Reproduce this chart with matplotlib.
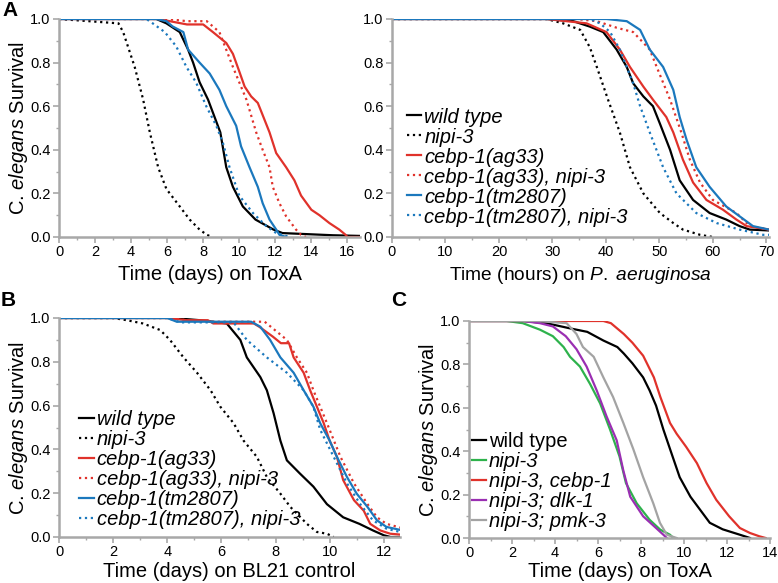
import numpy as np
import matplotlib
matplotlib.use('Agg')
import matplotlib.pyplot as plt
from matplotlib.ticker import MultipleLocator

plt.rcParams['font.family'] = ['Liberation Sans', 'DejaVu Sans']
plt.rcParams['mathtext.fontset'] = 'custom'
plt.rcParams['mathtext.rm'] = 'Liberation Sans'
plt.rcParams['mathtext.it'] = 'Liberation Sans:italic'

RED = '#e0322b'
BLUE = '#1b78bd'
GREEN = '#2eb24c'
PURPLE = '#9a2fb2'
GRAY = '#a3a3a3'
SPINE = '#a8a8a8'

# ---- Panel A left: ToxA (days) ----
a_wt_t = [0, 5.4, 5.96, 6.7, 7.16, 7.44, 7.8, 8.27, 8.95, 9.28, 9.65, 10.2, 10.9, 11.9, 12.4, 15.2, 16.7]
a_wt_s = [1.0, 1.0, 0.98, 0.94, 0.86, 0.80, 0.71, 0.63, 0.48, 0.32, 0.23, 0.14, 0.08, 0.034, 0.018, 0.008, 0.005]
a_nipi_t = [0, 3.3, 3.56, 4.2, 4.67, 5.04, 5.5, 5.96, 6.7, 7.25, 7.8, 8.2, 8.5]
a_nipi_s = [1.0, 0.98, 0.94, 0.78, 0.63, 0.48, 0.32, 0.22, 0.14, 0.08, 0.034, 0.01, 0.0]
a_ag_t = [0, 5.5, 7.1, 8.0, 8.54, 9.28, 9.65, 10.0, 10.3, 10.66, 11.03, 11.2, 11.68, 12.05, 12.6,
          13.06, 13.43, 14.0, 14.45, 15.0, 15.55, 15.9, 16.0, 16.7]
a_ag_s = [1.0, 1.0, 0.975, 0.975, 0.94, 0.89, 0.84, 0.76, 0.69, 0.645, 0.615, 0.58, 0.48, 0.385, 0.32,
          0.26, 0.19, 0.125, 0.10, 0.064, 0.034, 0.01, 0.0, 0.0]
a_agn_t = [0, 6.0, 7.1, 8.2, 8.9, 9.65, 10.0, 10.4, 10.94, 11.3, 11.68, 11.86, 12.23, 12.6, 13.15, 13.43, 13.7]
a_agn_s = [1.0, 1.0, 0.99, 0.99, 0.94, 0.78, 0.71, 0.63, 0.48, 0.40, 0.32, 0.23, 0.155, 0.095, 0.034, 0.01, 0.0]
a_tm_t = [0, 5.4, 5.96, 6.3, 6.9, 7.16, 7.8, 8.36, 8.9, 9.28, 9.83, 10.1, 10.57, 11.03, 11.3, 11.68, 12.05, 12.23, 12.6]
a_tm_s = [1.0, 1.0, 0.99, 0.966, 0.94, 0.86, 0.80, 0.75, 0.675, 0.60, 0.51, 0.416, 0.32, 0.23, 0.155, 0.08, 0.034, 0.01, 0.0]
a_tmn_t = [0, 4.85, 5.2, 5.87, 6.5, 7.07, 7.6, 8.17, 8.73, 9.1, 9.46, 10.0, 10.76, 11.5, 12.05, 12.8]
a_tmn_s = [1.0, 1.0, 0.98, 0.94, 0.875, 0.78, 0.71, 0.60, 0.51, 0.43, 0.32, 0.19, 0.11, 0.05, 0.018, 0.0]

# ---- Panel A right: P. aeruginosa (hours) ----
p_wt_t = [0, 28.9, 33.9, 37, 39.5, 42, 43.9, 45.1, 47, 48.8, 50.1, 52, 53.8, 56.3, 59.4, 62.5, 65, 66.9, 70.5]
p_wt_s = [1.0, 1.0, 0.99, 0.965, 0.94, 0.86, 0.78, 0.705, 0.645, 0.60, 0.52, 0.40, 0.26, 0.17, 0.11, 0.08, 0.05, 0.034, 0.03]
p_nipi_t = [0, 28.9, 32, 35.2, 37, 38.3, 40.4, 42.6, 44.5, 47, 50.1, 52.6, 54.4, 57.6, 60]
p_nipi_s = [1.0, 1.0, 0.98, 0.95, 0.87, 0.78, 0.63, 0.48, 0.32, 0.20, 0.11, 0.064, 0.034, 0.01, 0.0]
p_ag_t = [0, 28.9, 36.4, 40.1, 42.6, 44.5, 47, 48.8, 51.3, 52.6, 54.4, 56.3, 58.8, 61.9, 64.4, 66.3, 70.5]
p_ag_s = [1.0, 1.0, 0.98, 0.94, 0.86, 0.78, 0.69, 0.63, 0.55, 0.48, 0.355, 0.25, 0.17, 0.125, 0.08, 0.05, 0.034]
p_agn_t = [0, 34.5, 38.3, 42, 45.1, 48.2, 49.5, 52, 54.1, 55.7, 57.6, 60, 64.4, 66.9, 70.5]
p_agn_s = [1.0, 1.0, 0.99, 0.96, 0.94, 0.86, 0.78, 0.63, 0.48, 0.355, 0.25, 0.17, 0.11, 0.05, 0.034]
p_tm_t = [0, 40.1, 43.9, 46.4, 48.2, 50.7, 52.6, 53.8, 55.1, 56.9, 59.4, 62.5, 65, 67.5, 70.5]
p_tm_s = [1.0, 1.0, 0.99, 0.95, 0.86, 0.78, 0.675, 0.55, 0.445, 0.32, 0.23, 0.14, 0.095, 0.05, 0.034]
p_tmn_t = [0, 37, 38.9, 40.8, 42.6, 45.1, 46.4, 48.2, 50.7, 53.2, 56.9, 60.7, 65, 69.4, 70.5]
p_tmn_s = [1.0, 1.0, 0.98, 0.94, 0.86, 0.705, 0.60, 0.48, 0.32, 0.20, 0.11, 0.064, 0.034, 0.01, 0.01]

# ---- Panel B: BL21 control (days) ----
b_wt_t = [0, 4.2, 5.2, 6.2, 6.7, 6.94, 7.44, 7.68, 7.93, 8.18, 8.42, 8.9, 9.4, 9.9, 10.5, 11.1, 11.6, 12.0, 12.25, 12.7]
b_wt_s = [1.0, 1.0, 0.99, 0.975, 0.90, 0.82, 0.73, 0.67, 0.565, 0.44, 0.35, 0.29, 0.23, 0.15, 0.09, 0.06, 0.03, 0.008, 0.0, 0.0]
b_nipi_t = [0, 2.0, 2.5, 3.1, 3.74, 4.1, 4.6, 5.1, 5.6, 5.96, 6.45, 6.82, 7.31, 7.68, 8.18, 8.55, 9.16, 9.53, 9.9, 10.15]
b_nipi_s = [1.0, 1.0, 0.99, 0.975, 0.945, 0.90, 0.82, 0.75, 0.67, 0.595, 0.52, 0.44, 0.366, 0.274, 0.198, 0.137, 0.06, 0.023, 0.015, 0.0]
b_ag_t = [0, 4.0, 4.7, 5.5, 5.7, 7.2, 7.4, 7.9, 8.2, 8.5, 8.67, 9.04, 9.28, 9.53, 9.78, 10.0, 10.27, 10.5,
          10.9, 11.26, 11.5, 11.87, 12.24, 12.7]
b_ag_s = [1.0, 1.0, 0.99, 0.99, 0.975, 0.975, 0.96, 0.915, 0.885, 0.885, 0.82, 0.75, 0.67, 0.595, 0.52, 0.44,
          0.366, 0.26, 0.168, 0.12, 0.06, 0.03, 0.015, 0.01]
b_agn_t = [0, 4.2, 5.0, 7.6, 8.42, 8.79, 9.16, 9.4, 9.9, 10.4, 10.9, 11.4, 11.75, 12.1, 12.7]
b_agn_s = [1.0, 1.0, 0.983, 0.983, 0.90, 0.82, 0.75, 0.67, 0.52, 0.366, 0.245, 0.15, 0.09, 0.06, 0.04]
b_tm_t = [0, 4.0, 4.35, 7.1, 7.44, 7.8, 8.18, 8.67, 9.04, 9.4, 9.65, 10.0, 10.27, 10.64, 11.0, 11.4, 11.75, 12.1, 12.7]
b_tm_s = [1.0, 1.0, 0.983, 0.983, 0.96, 0.90, 0.82, 0.75, 0.67, 0.595, 0.52, 0.44, 0.366, 0.274, 0.198, 0.137, 0.076, 0.046, 0.03]
b_tmn_t = [0, 4.0, 4.5, 6.45, 6.94, 7.68, 8.42, 9.04, 9.4, 9.65, 10.15, 10.64, 11.13, 11.6, 12.1, 12.7]
b_tmn_s = [1.0, 1.0, 0.98, 0.98, 0.90, 0.82, 0.75, 0.67, 0.595, 0.49, 0.366, 0.245, 0.15, 0.076, 0.038, 0.02]

# ---- Panel C: ToxA (days) ----
c_wt_t = [0, 2.5, 3.6, 4.7, 5.5, 6.25, 6.9, 7.2, 7.6, 8.1, 8.4, 8.7, 9.04, 9.35, 9.8, 10.3, 10.75, 11.2, 11.8, 12.6, 13.07]
c_wt_s = [1.0, 1.0, 0.99, 0.966, 0.95, 0.91, 0.88, 0.85, 0.805, 0.74, 0.68, 0.61, 0.50, 0.41, 0.28, 0.19, 0.13, 0.07, 0.04, 0.015, 0.0]
c_nipi_t = [0, 1.75, 2.5, 3.3, 3.9, 4.4, 4.7, 5.16, 5.63, 6.1, 6.56, 7.0, 7.3, 7.8, 8.4, 8.9, 9.35, 9.5]
c_nipi_s = [1.0, 1.0, 0.99, 0.96, 0.93, 0.88, 0.835, 0.79, 0.71, 0.62, 0.50, 0.376, 0.253, 0.16, 0.084, 0.038, 0.015, 0.0]
c_ceb_t = [0, 6.25, 6.6, 7.2, 7.6, 8.1, 8.6, 8.9, 9.35, 9.66, 10.1, 10.6, 11.05, 11.5, 12.1, 12.6, 13.07, 13.5, 13.8]
c_ceb_s = [1.0, 1.0, 0.99, 0.94, 0.90, 0.84, 0.74, 0.65, 0.53, 0.48, 0.42, 0.345, 0.253, 0.176, 0.10, 0.046, 0.023, 0.008, 0.0]
c_dlk_t = [0, 2.5, 3.3, 3.9, 4.5, 5.0, 5.47, 5.94, 6.4, 6.87, 7.18, 7.5, 8.1, 8.7, 9.04, 9.2]
c_dlk_s = [1.0, 1.0, 0.99, 0.975, 0.93, 0.87, 0.79, 0.68, 0.56, 0.45, 0.31, 0.19, 0.10, 0.046, 0.015, 0.0]
c_pmk_t = [0, 3.15, 4.54, 5.0, 5.3, 5.8, 6.25, 6.7, 7.18, 7.64, 8.1, 8.57, 8.88, 9.2, 9.66]
c_pmk_s = [1.0, 1.0, 0.99, 0.94, 0.88, 0.835, 0.74, 0.65, 0.53, 0.41, 0.28, 0.16, 0.07, 0.015, 0.0]

labels_ab = ['wild type', 'nipi-3', 'cebp-1(ag33)', 'cebp-1(ag33), nipi-3',
             'cebp-1(tm2807)', 'cebp-1(tm2807), nipi-3']
labels_c = ['wild type', 'nipi-3', 'nipi-3, cebp-1', 'nipi-3; dlk-1', 'nipi-3; pmk-3']

W, H = 778, 583
fig = plt.figure(figsize=(W / 100, H / 100), dpi=100)


def box(l, t, r, b):
    return [l / W, 1 - b / H, (r - l) / W, (b - t) / H]


def style(ax, xlim, xmaj, xmin):
    ax.set_xlim(*xlim)
    ax.set_ylim(0, 1.0)
    ax.xaxis.set_major_locator(MultipleLocator(xmaj))
    ax.xaxis.set_minor_locator(MultipleLocator(xmin))
    ax.yaxis.set_major_locator(MultipleLocator(0.2))
    ax.yaxis.set_minor_locator(MultipleLocator(0.1))
    ax.yaxis.set_major_formatter(plt.FormatStrFormatter('%.1f'))
    for s in ['top', 'right']:
        ax.spines[s].set_visible(False)
    for s in ['left', 'bottom']:
        ax.spines[s].set_color(SPINE)
        ax.spines[s].set_linewidth(1.8)
    ax.tick_params(which='major', direction='out', length=4, width=1.2, color=SPINE,
                   labelsize=10.5, pad=2)
    ax.tick_params(which='minor', direction='out', length=2.5, width=1.0, color=SPINE)


def leg(ax, anchor, labels):
    lg = ax.legend(labels=labels, loc='upper left', bbox_to_anchor=anchor, frameon=False,
                   prop={'size': 14.5, 'style': 'italic'}, handlelength=0.7,
                   handletextpad=0.15, labelspacing=0.05, borderpad=0, borderaxespad=0)
    return lg


lw = 1.6
lab_fs = 14.5
ylab = r'C. $\mathit{elegans}$ Survival'

# Panel A left
ax1 = fig.add_axes(box(59, 19, 360, 237))
ax1.plot(a_wt_t, a_wt_s, color='black', lw=lw)
ax1.plot(a_nipi_t, a_nipi_s, color='black', lw=lw, ls=':')
ax1.plot(a_ag_t, a_ag_s, color=RED, lw=lw)
ax1.plot(a_agn_t, a_agn_s, color=RED, lw=lw, ls=':')
ax1.plot(a_tm_t, a_tm_s, color=BLUE, lw=lw)
ax1.plot(a_tmn_t, a_tmn_s, color=BLUE, lw=lw, ls=':')
style(ax1, (0, 16.7), 2, 1)
ax1.set_xlabel('Time (days) on ToxA', fontsize=lab_fs, labelpad=4)
ax1.set_ylabel(ylab, fontsize=lab_fs, labelpad=0)

# Panel A right
ax2 = fig.add_axes(box(392, 19, 769, 237))
ax2.plot(p_wt_t, p_wt_s, color='black', lw=lw)
ax2.plot(p_nipi_t, p_nipi_s, color='black', lw=lw, ls=':')
ax2.plot(p_ag_t, p_ag_s, color=RED, lw=lw)
ax2.plot(p_agn_t, p_agn_s, color=RED, lw=lw, ls=':')
ax2.plot(p_tm_t, p_tm_s, color=BLUE, lw=lw)
ax2.plot(p_tmn_t, p_tmn_s, color=BLUE, lw=lw, ls=':')
style(ax2, (0, 70.5), 10, 5)
ax2.set_xlabel(r'Time (hours) on $\mathit{P.}$ $\mathit{aeruginosa}$', fontsize=13.8, labelpad=4)
leg(ax2, (0.04, 0.594), labels_ab)

# Panel B
ax3 = fig.add_axes(box(59, 318, 400, 537))
ax3.plot(b_wt_t, b_wt_s, color='black', lw=lw)
ax3.plot(b_nipi_t, b_nipi_s, color='black', lw=lw, ls=':')
ax3.plot(b_ag_t, b_ag_s, color=RED, lw=lw)
ax3.plot(b_agn_t, b_agn_s, color=RED, lw=lw, ls=':')
ax3.plot(b_tm_t, b_tm_s, color=BLUE, lw=lw)
ax3.plot(b_tmn_t, b_tmn_s, color=BLUE, lw=lw, ls=':')
style(ax3, (0, 12.6), 2, 1)
ax3.set_xlabel('Time (days) on BL21 control', fontsize=lab_fs, labelpad=2)
ax3.set_ylabel(ylab, fontsize=lab_fs, labelpad=0)
leg(ax3, (0.06, 0.58), labels_ab)

# Panel C
ax4 = fig.add_axes(box(469, 321, 770, 538))
ax4.plot(c_wt_t, c_wt_s, color='black', lw=lw)
ax4.plot(c_nipi_t, c_nipi_s, color=GREEN, lw=lw)
ax4.plot(c_ceb_t, c_ceb_s, color=RED, lw=lw)
ax4.plot(c_dlk_t, c_dlk_s, color=PURPLE, lw=lw)
ax4.plot(c_pmk_t, c_pmk_s, color=GRAY, lw=lw)
style(ax4, (0, 14), 2, 1)
ax4.set_xlabel('Time (days) on ToxA', fontsize=lab_fs, labelpad=1)
ax4.set_ylabel(ylab, fontsize=lab_fs, labelpad=0)
lg = leg(ax4, (0.01, 0.49), labels_c)
lg.get_texts()[0].set_fontstyle('normal')

fig.text(2 / W, 1 - 1 / H, 'A', fontsize=15, fontweight='bold', va='top')
fig.text(1 / W, 1 - 291 / H, 'B', fontsize=15, fontweight='bold', va='top')
fig.text(391 / W, 1 - 291 / H, 'C', fontsize=15, fontweight='bold', va='top')

fig.savefig('out.png', dpi=100, facecolor='white')
